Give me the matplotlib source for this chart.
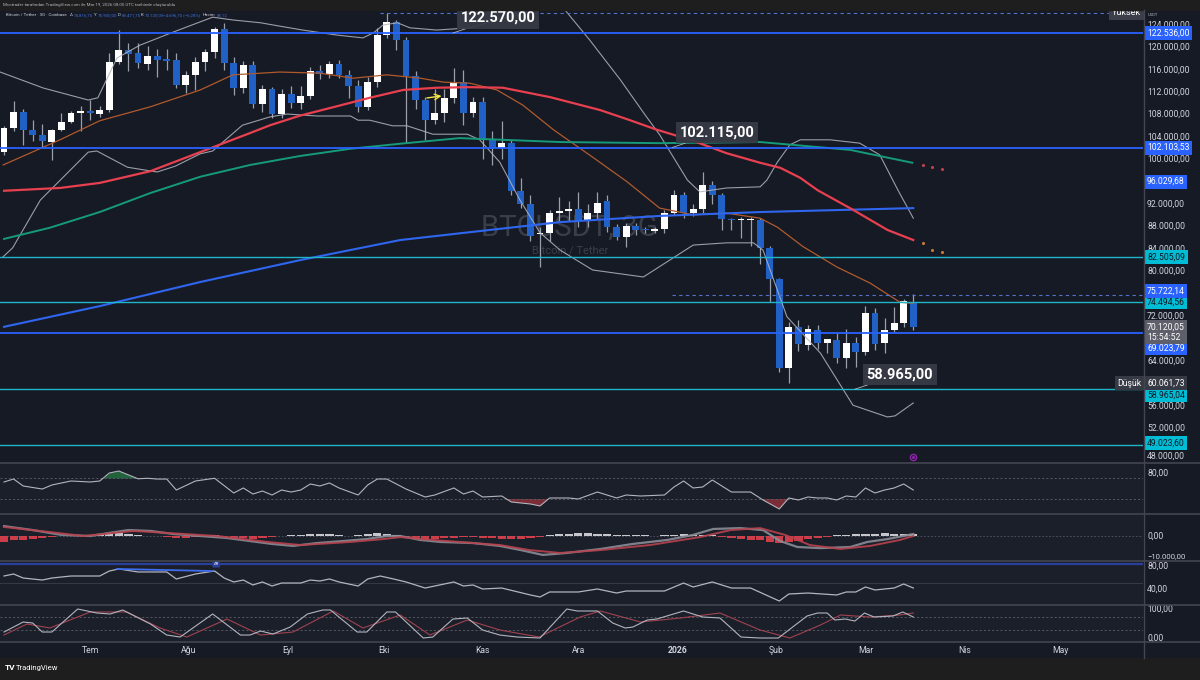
import matplotlib
matplotlib.use('Agg')
import matplotlib.pyplot as plt
import matplotlib.transforms as mtransforms
from matplotlib.lines import Line2D
from matplotlib.patches import Rectangle
import numpy as np
import pandas as pd

plt.rcParams['font.family'] = ['Roboto', 'DejaVu Sans']

# ---------------- data (prices in thousand USDT) ----------------
start_date = '2025-06-04'
bar_days = 3

opens = [101.3,105.6,108.5,105.3,104.4,103.1,105.3,106.7,108.2,108.7,
         108.1,108.8,117.4,119.6,119.0,117.0,118.5,117.85,117.7,113.2,
         115.0,117.4,119.1,123.2,117.2,112.7,116.9,109.9,112.5,108.1,
         111.7,110.0,111.3,115.8,115.2,117.0,115.1,113.1,109.4,113.9,
         122.2,124.6,121.4,114.9,110.6,107.0,108.2,110.9,113.9,108.2,
         110.3,103.6,102.0,103.0,94.3,92.0,86.6,86.8,90.4,90.8,
         91.2,89.1,90.5,92.5,87.9,86.1,88.1,87.45,87.3,87.5,
         90.5,93.6,90.5,91.1,95.4,93.6,89.3,89.1,89.1,89.2,
         84.1,78.6,62.7,70.1,66.9,69.5,67.3,67.7,64.5,67.2,
         65.6,72.5,67.2,69.6,70.7,74.6]
highs = [105.9,110.5,109.0,107.0,106.3,105.5,108.3,108.7,109.5,110.6,
         109.5,119.0,123.1,120.8,120.8,120.3,119.7,119.7,119.0,115.7,
         118.3,119.7,123.6,124.3,118.3,117.5,117.5,113.3,113.0,112.5,
         113.1,113.1,116.5,116.9,117.5,117.7,116.0,114.2,114.8,123.4,
         126.1,124.9,121.9,115.7,111.2,112.5,112.5,116.3,116.0,111.2,
         111.2,105.0,106.8,103.5,96.7,93.6,88.0,91.0,93.3,92.5,
         94.2,92.0,94.2,93.6,88.5,88.6,88.6,87.9,88.0,91.0,
         94.5,94.2,92.0,97.8,96.2,94.0,89.6,89.7,89.7,89.6,
         84.5,78.9,71.0,71.3,70.4,70.4,68.0,69.0,69.8,68.3,
         73.8,73.4,71.6,73.7,75.1,75.9]
lows = [100.8,105.0,102.6,103.2,102.3,99.9,105.0,106.5,105.0,107.0,
        107.5,108.5,117.0,115.7,116.3,116.0,114.8,116.0,112.7,111.9,
        112.4,115.7,118.1,116.0,111.5,111.8,109.1,108.5,107.4,107.4,
        109.1,109.0,110.8,114.3,114.5,114.5,110.9,108.5,108.9,113.0,
        121.6,119.5,103.0,109.0,103.5,106.3,106.6,110.0,106.1,107.5,
        100.0,99.0,100.0,93.6,91.4,85.5,80.7,85.5,89.0,89.0,
        88.0,88.0,89.3,87.0,85.6,84.3,86.5,86.9,86.8,86.8,
        90.0,89.5,89.9,90.5,92.0,87.4,87.4,86.0,84.5,81.3,
        74.6,62.1,60.06,65.7,66.0,66.2,65.4,63.6,62.7,63.0,
        65.0,66.0,65.5,69.2,70.0,69.5]
closes = [105.6,108.5,105.3,104.4,103.2,105.3,106.7,108.3,108.7,108.2,
          108.8,117.4,119.6,118.9,117.2,118.5,117.7,117.65,113.2,115.0,
          117.4,119.1,123.2,117.2,112.7,116.9,109.9,112.5,108.1,111.7,
          110.0,111.3,115.8,115.2,117.0,115.1,113.1,109.4,113.9,122.2,
          124.6,121.4,114.9,110.6,107.0,108.2,110.9,113.9,108.2,110.3,
          103.6,102.0,103.0,94.3,92.0,86.3,86.8,90.4,90.7,91.2,
          89.2,90.5,92.3,87.9,86.1,88.1,87.4,87.35,87.6,90.4,
          93.6,90.5,91.1,95.4,93.6,89.3,89.1,89.2,89.2,84.1,
          78.6,62.7,70.1,67.0,69.7,67.3,67.9,64.5,67.3,65.6,
          72.5,67.0,69.6,70.8,74.7,70.12]

# moving averages / bands, sampled at bar index positions
ma_brown_x = [-0.1,5.85,10,15.3,20.5,23.9,28.8,33,36.5,40,43.5,45.9,48.7,51.5,54.2,57.4,61.5,65.1,68.5,72,75.5,79,80.8,83.5,87,90.5,93.6,95]
ma_brown_y = [99.0,103.5,106.9,109.4,112.4,115.1,115.6,115.4,114.5,115.1,114.5,113.8,113.6,112.4,109.7,105.3,100.4,96.0,91.3,90.1,90.4,89.5,87.9,84.4,80.8,77.9,74.5,74.3]
ma_red_x = [0,5.85,10,15.3,20.5,25.7,27.8,30.9,34.8,38.2,41.7,45.2,48.7,52.1,57.1,62.3,65.4,68.2,71.7,75.5,79,81.1,83.2,85,88.7,92.3,95]
ma_red_y = [94.4,94.9,95.8,97.9,101.3,104.7,106.1,107.8,109.5,111.0,112.4,112.8,112.9,112.8,111.1,108.8,107.0,105.3,103.5,101.1,99.4,98.5,96.7,94.5,91.0,87.4,85.6]
ma_green_x = [0,4.8,10,15.3,20.5,25.7,30.9,36.2,41.4,47.6,58.1,68.5,79,88.4,94.9]
ma_green_y = [85.8,87.8,90.6,94.0,96.9,99.0,100.6,101.9,102.8,103.8,103.1,102.9,103.1,101.7,99.4]
ma_blue_x = [0,10,20.5,30.9,41.4,49.7,58.1,68.5,79,95]
ma_blue_y = [70.1,73.8,78.1,82.0,85.6,87.2,88.8,89.9,90.6,91.3]
bb_up_x = [-0.4,4.1,8.8,9.8,11.8,14.2,17.7,21.8,23.9,26.8,28.8,31.2,34.8,37.5,38.6,39.6,41.1,42.4,45.2,48.7,50.5,54.2,56.5,58.6,61.2,64.4,67,68.5,71.4,72.7,75.5,79,79.7,80.8,82.1,83.2,86.3,89.4,91.5,93.4,95]
bb_up_y = [115.6,112.75,110.6,111.0,118.1,120.4,122.75,125.4,124.9,124.4,123.8,123.1,122.2,121.7,122.6,124.0,124.4,123.5,123.1,123.5,124.4,126.1,128.5,126.7,121.3,114.2,107.9,104.4,96.3,94.2,94.9,95.1,96.3,99.5,102.6,103.5,103.5,102.9,100.8,94.5,89.5]
bb_lo_x = [-0.1,0.9,3.8,8.8,9.7,12.9,16,17.9,20.5,21.8,24.9,27.8,29.6,32.7,36.2,37,38.2,40.6,42.1,44.8,48.4,49.7,51.8,53.9,56,58.1,61.5,66.8,72,75.5,78.3,79.3,81.8,85.3,88.7,92.3,93.1,95]
bb_lo_y = [82.6,84.2,92.75,101.3,101.5,98.6,97.75,98.8,101.0,101.5,106.1,107.6,108.1,107.75,107.75,107.0,107.0,106.0,106.0,104.5,104.5,103.5,99.5,92.75,86.9,83.8,80.25,79.0,84.7,85.1,85.1,83.8,71.9,65.4,56.1,54.0,54.2,56.5]
proj_orange_x = [96, 97, 98]
proj_orange_y = [85.0, 83.9, 83.4]
proj_red_x = [96, 97, 98]
proj_red_y = [99.0, 98.6, 98.2]

# horizontal levels
levels_blue = [122.536, 102.10353, 69.02379]
levels_cyan = [82.50509, 74.49456, 58.96504, 49.02360]
level_dashed = 75.72214
level_dashed_start = 69.8
high_level = 126.2
high_start = 39.3
low_value = 60.06173
extra_blue_label = 96.02968
last_close = 70.12005
countdown = '15:54:52'
price_ticks = [124,120,116,112,108,104,100,92,88,84,80,72,64,56,52,48]

ann_text = ['122.570,00', '102.115,00', '58.965,00']
ann_idx = [46.9, 69.8, 88.9]
ann_price = [122.57, 102.115, 58.965]

# RSI (pane 1)
rsi_x = [0,1,2,4,5,7,9,10,11,12,14,15,16,17,18,20,22,24,25,26,27,28,29,30,31,32,33,34,35,37,38,39,40,42,44,45,47,48,49,50,52,53,55,56,57,59,60,62,64,65,66.5,69,70,71,72,73,74,76,78,79.3,81,82,83,84,85,86,87,88,89,90,91,92,93,94,95]
rsi_v = [62.4,68.1,54.8,49.0,56.7,64.3,62.4,64.3,79.5,83.3,68.5,69.5,68,68,47.1,64.3,69.5,41.4,51.0,39.5,45.2,37.6,47.1,43.3,47.1,58.6,54.8,60.5,51.0,37.6,56.7,68.1,68,49.0,33.8,37.6,51.0,39.5,45.2,33.8,35.7,24.3,20.5,16.7,31.9,31.9,30,43.3,31.9,37.6,35.7,37.6,52.9,64.3,51.0,52.9,66.2,43.3,43.3,28.1,11,31.9,28.1,33.8,31.9,31.9,28.1,35.7,33.8,51.0,41.4,47.1,51.0,58.6,47.1]

# MACD (pane 2)
macd_x = [0,3,6,9,11,13,15.3,17.7,20.5,23.3,25.7,28,30.2,32.7,35.4,37.9,40,41.4,43.5,45.6,49,51.8,54,56.3,58.8,62.3,65.7,69.3,72,74.1,76.9,79.3,81.1,82.9,85.3,88.4,90.2,92.3,95]
macd_v = [4500,2700,500,0,1400,2700,2300,900,0,-900,-2300,-3600,-4500,-3200,-2300,-1400,0,0,-1800,-2700,-3200,-4500,-6400,-8600,-7700,-5900,-3600,-1800,500,3200,3600,2700,-2300,-5000,-5500,-5000,-2700,-1400,900]
sig_x = [0,4.8,8.3,13.5,17,22.3,27.5,31,36.2,39.6,41.4,44.8,51.8,54.9,58.1,62.3,67.5,72.7,75.9,79,81.6,84.2,87.4,90.5,93.6,95]
sig_v = [4100,1800,0,2300,1400,0,-2700,-4100,-2700,-1400,-500,-1800,-4100,-6400,-7700,-6400,-4100,-500,2700,3600,500,-4100,-5900,-4500,-1800,0]
hist_v = [-2500,-2000,-1600,-1200,-900,-600,-200,200,300,300,
          800,1200,1300,1000,600,200,-200,-600,-900,-700,
          -400,200,300,-500,-900,-1100,-1200,-900,-500,-100,
          300,600,800,900,700,400,100,600,1000,1300,
          1100,600,-500,-1200,-1600,-1500,-1000,-700,-500,-600,
          -800,-900,-1200,-1300,-1200,-900,-500,300,700,1100,
          1300,1200,1000,700,500,400,300,300,200,300,
          500,700,600,500,300,-300,-700,-1200,-1600,-2000,
          -2600,-3000,-2800,-2200,-1500,-800,-300,300,600,800,
          1000,1100,1200,1100,1000,800]

# RSI (pane 3)
rsi2_x = [0,1,2,4,5,7,10,11,12,14,15,17,18,20,22,23,24,25,26,27,28,29,31,32,33,34,35,37,38,39.3,40.7,42,44,45,47,48,49,50,52,55,56,57,60,62,64,65,69,71,72,74,76,78,81,82,84,87,88,89,90,91,93,94,95]
rsi2_v = [60,63.1,56.9,53.8,56.9,60,60,67.7,70.8,66.2,66.2,66.2,55.4,63.1,67.7,56.9,50.8,53.8,46.2,50.8,44.6,49.2,49.2,53.8,52.3,55.4,50.8,44.6,55.4,60,55.4,50.8,41.5,44.6,50.8,44.6,46.2,40,41.5,30.8,27.7,35.4,35.4,40,33.8,36.9,36.9,49.2,43.1,50.8,41.5,41.5,21.5,32.3,33.8,30.8,35.4,35.4,43.1,38.5,41.5,47.7,41.5]
trend2_x = [11.8, 21.7]
trend2_v = [70.8, 67.7]
rsi2_band = 78

# Stochastic RSI (pane 4)
k_x = [0,2,3,4,5,7.7,9.7,11.1,12.4,15.3,17,18.4,21.8,24.7,25.7,26.8,28.1,29.9,31.7,33.3,34.1,36.9,37.9,40,40.9,43.8,44.8,46.9,48.4,50,51.8,53.6,56,58.8,59.9,62,63.6,64.9,65.7,67.2,68.2,71,73,74.8,77,79,80.9,83.9,85,86,86.8,87.9,88.9,89.9,90.9,92.9,93.9,95]
k_v = [20.7,55.2,51.7,20.7,20.7,100,86.2,82.8,96.6,48.3,10.3,3.4,82.8,10.3,10.3,24.1,13.8,37.9,82.8,96.6,96.6,20.7,20.7,89.7,89.7,0,3.4,65.5,69,27.6,10.3,3.4,0,100,93.1,93.1,51.7,34.5,37.9,62.1,65.5,93.1,72.4,69,3.4,0,0,75.9,86.2,86.2,62.1,65.5,58.6,86.2,72.4,75.9,89.7,72.4]
d_x = [0,2.4,4.8,9,12.8,16.3,19.1,23.3,26.8,30.2,34.4,37.5,41.4,44.5,48.4,51.8,55.9,60.2,62.3,66.5,70.7,74.8,79,82.1,85.3,87.4,90.5,93.6,95]
d_v = [10.3,48.3,34.5,89.7,89.7,34.5,3.4,65.5,10.3,20.7,93.1,34.5,79.3,10.3,62.1,27.6,3.4,72.4,93.1,55.2,69,86.2,27.6,0,44.8,79.3,72.4,79.3,86.2]
stoch_levels = [72.4, 27.6]

month_starts = ['2025-07-01','2025-08-01','2025-09-01','2025-10-01','2025-11-01','2025-12-01',
                '2026-01-01','2026-02-01','2026-03-01','2026-04-01','2026-05-01']
month_labels = ['Tem','Ağu','Eyl','Eki','Kas','Ara','2026','Şub','Mar','Nis','May']

# ---------------- styling ----------------
W, H = 1200, 680
BG = '#161a25'
PANE = '#1b1f2a'
STRIP = '#1e1e1e'
SEP = '#434651'
TXT = '#d1d4dc'
UP = '#ffffff'
DN = '#2160c4'
BLUE = '#2962ff'
CYAN = '#00bcd4'

fig = plt.figure(figsize=(W / 100, H / 100), dpi=100)
fig.patch.set_facecolor(BG)

def fy(py):
    return 1 - py / H

def fx(px):
    return px / W

AXR = 1143
ax = fig.add_axes([0, fy(462), fx(AXR), (462 - 10) / H])
ax1 = fig.add_axes([0, fy(513), fx(AXR), (513 - 463) / H])
ax2 = fig.add_axes([0, fy(560), fx(AXR), (560 - 514) / H])
ax3 = fig.add_axes([0, fy(604), fx(AXR), (604 - 561) / H])
ax4 = fig.add_axes([0, fy(641), fx(AXR), (641 - 605) / H])

XL = (-0.42, 119.0)
for a, fc in [(ax, BG), (ax1, PANE), (ax2, PANE), (ax3, PANE), (ax4, PANE)]:
    a.set_facecolor(fc)
    a.set_xlim(*XL)
    for s in a.spines.values():
        s.set_visible(False)
    a.set_yticks([])
    a.tick_params(axis='x', length=0, labelbottom=False)

ax.set_ylim(45.96, 126.68)
ax1.set_ylim(3.3, 98.6)
ax2.set_ylim(-10900, 10000)
ax3.set_ylim(16.9, 83.1)
ax4.set_ylim(-10.3, 113.8)

def fmt(v):
    s = f"{v:,.2f}"
    return s.replace(',', 'X').replace('.', ',').replace('X', '.')

def rlabel(a, y, text, fc=None, tc=TXT, dy=0, fs=6.2, x=1.0035, ha='left'):
    t = mtransforms.blended_transform_factory(a.transAxes, a.transData)
    t = mtransforms.offset_copy(t, fig=fig, x=0, y=-dy, units='dots')
    kw = {}
    if fc:
        kw['bbox'] = dict(boxstyle='square,pad=0.3', fc=fc, ec='none')
    a.text(x, y, text, transform=t, ha=ha, va='center', fontsize=fs, color=tc,
           clip_on=False, zorder=20 if fc else 15, **kw)

# ---------------- main price pane ----------------
o = np.array(opens); h = np.array(highs); l = np.array(lows); c = np.array(closes)
xi = np.arange(len(o))
up = c >= o
cols = np.where(up, UP, DN)
ax.vlines(xi, l, h, colors='#9aa0ab', lw=0.9, zorder=3)
ax.bar(xi, np.maximum(np.abs(c - o), 0.25), bottom=np.minimum(o, c), width=0.72,
       color=cols, linewidth=0, zorder=4)

ax.text(59.1, 87.75, 'BTCUSDT, 3G', fontsize=21, color='#3a3e49', ha='center', va='center', zorder=1)
ax.text(59.1, 83.8, 'Bitcoin / Tether', fontsize=8, color='#3a3e49', ha='center', va='center', zorder=1)

ax.plot(bb_up_x, bb_up_y, color='#b2b5be', lw=0.8, alpha=0.85, zorder=5)
ax.plot(bb_lo_x, bb_lo_y, color='#b2b5be', lw=0.8, alpha=0.85, zorder=5)
ax.plot(ma_brown_x, ma_brown_y, color='#b05a2c', lw=0.9, zorder=5)
ax.plot(ma_green_x, ma_green_y, color='#159a7c', lw=1.4, zorder=5)
ax.plot(ma_blue_x, ma_blue_y, color='#2f66f0', lw=1.5, zorder=5)
ax.plot(ma_red_x, ma_red_y, color='#e8404f', lw=1.6, zorder=5)
ax.scatter(proj_orange_x, proj_orange_y, s=1.5, color='#c87a3a', zorder=5)
ax.scatter(proj_red_x, proj_red_y, s=1.5, color='#c04050', zorder=5)

for lv in levels_blue:
    ax.axhline(lv, color=BLUE, lw=1.3, zorder=6)
for lv in levels_cyan:
    ax.axhline(lv, color='#1fb5c6', lw=1.0, zorder=6)
ax.hlines(level_dashed, level_dashed_start, XL[1], color='#5573c8', lw=0.8, linestyles=(0, (3, 3)), zorder=6)
ax.hlines(high_level, high_start, XL[1], color='#5573c8', lw=0.8, linestyles=(0, (3, 3)), zorder=6)

for t, xv, pv in zip(ann_text, ann_idx, ann_price):
    ax.annotate(t, xy=(xv, pv), xytext=(45, 15), textcoords='offset pixels',
                ha='center', va='center', fontsize=10.5, fontweight='bold', color='#ffffff',
                bbox=dict(boxstyle='square,pad=0.25', fc='#363a45', ec='none', alpha=0.95),
                arrowprops=dict(arrowstyle='-', color='#b2b5be', lw=0.6, shrinkA=0, shrinkB=0),
                zorder=12)

ax.annotate('', xy=(46.0, 111.4), xytext=(43.9, 110.9),
            arrowprops=dict(arrowstyle='->', color='#f5e642', lw=1.0), zorder=12)
ax.plot([95], [46.9], marker='o', ms=4.5, mfc='none', mec='#8e24aa', mew=1.0, zorder=12)
ax.plot([95], [46.9], marker='o', ms=1.2, color='#8e24aa', zorder=12)

# right price axis labels
for v in price_ticks:
    rlabel(ax, v, fmt(v * 1000), dy=6 if v == 48 else 0)
for lv in levels_blue:
    rlabel(ax, lv, fmt(lv * 1000), fc=BLUE, tc='#ffffff', dy=15 if lv < 70 else 0)
for lv in levels_cyan:
    rlabel(ax, lv, fmt(lv * 1000), fc=CYAN, tc='#131722', dy=6 if 58 < lv < 60 else (-2 if lv < 50 else 0))
rlabel(ax, extra_blue_label, fmt(extra_blue_label * 1000), fc=BLUE, tc='#ffffff')
rlabel(ax, level_dashed, fmt(level_dashed * 1000), fc=BLUE, tc='#ffffff', dy=-4.5)
rlabel(ax, last_close, fmt(last_close * 1000) + '\n' + countdown, fc='#5d606b', tc='#ffffff', dy=5.5)
rlabel(ax, low_value, fmt(low_value * 1000), fc='#363a45', tc='#ffffff')
rlabel(ax, low_value, 'Düşük', fc='#363a45', tc='#ffffff', x=0.9985, ha='right')
rlabel(ax, high_level, 'Yüksek', fc='#3c3f49', tc='#ffffff', x=0.9985, ha='right', fs=6.5)
fig.text(fx(1148), fy(15), 'USDT', fontsize=3, color='#b2b5be', va='center', ha='left')

# ---------------- pane 1: RSI ----------------
rx = np.array(rsi_x); rv = np.array(rsi_v)
ax1.fill_between(rx, rv, 70, where=rv > 70, interpolate=True, color='#24703f', alpha=0.85, lw=0)
ax1.fill_between(rx, rv, 30, where=rv < 30, interpolate=True, color='#a3333d', alpha=0.7, lw=0)
for lv in (70, 30):
    ax1.axhline(lv, color='#5d606b', lw=0.6, ls=(0, (2.5, 2.5)))
ax1.plot(rx, rv, color='#b2b5be', lw=0.8)
rlabel(ax1, 80, '80,00')

# ---------------- pane 2: MACD ----------------
hv = np.array(hist_v)
ax2.axhline(0, color='#5d606b', lw=0.5, ls=(0, (2.5, 2.5)))
ax2.bar(np.arange(len(hv)), hv, width=0.85, color=np.where(hv >= 0, '#d9dbe0', '#e0414e'),
        alpha=0.9, lw=0, zorder=3)
ax2.plot(macd_x, macd_v, color='#8a8d96', lw=1.6, alpha=0.9, zorder=4)
ax2.plot(sig_x, sig_v, color='#b8424d', lw=1.4, alpha=0.9, zorder=4)
rlabel(ax2, 0, '0,00')
rlabel(ax2, -10000, '\u221210.000,00', dy=-1.5, fs=5.6)

# ---------------- pane 3: RSI ----------------
ax3.axhline(rsi2_band, color='#2b3f9a', lw=1.6)
ax3.axhline(50, color='#343845', lw=0.8)
ax3.plot(rsi2_x, rsi2_v, color='#b2b5be', lw=0.9, zorder=4)
ax3.plot(trend2_x, trend2_v, color='#3f6df0', lw=1.3, zorder=5)
ax3.text(trend2_x[1] + 0.2, rsi2_band, 'AR', fontsize=3, color='#ffffff', ha='left', va='center',
         bbox=dict(boxstyle='round,pad=0.3', fc='#2b3f9a', ec='none'), zorder=6)
rlabel(ax3, 80, '80,00', dy=3)
rlabel(ax3, 40, '40,00')

# ---------------- pane 4: Stochastic RSI ----------------
for lv in stoch_levels:
    ax4.axhline(lv, color='#5d606b', lw=0.6, ls=(0, (2.5, 2.5)))
ax4.plot(d_x, d_v, color='#a0434f', lw=0.8, zorder=4)
ax4.plot(k_x, k_v, color='#b2b5be', lw=0.8, zorder=5)
rlabel(ax4, 100, '100,00')
rlabel(ax4, 0, '0,00')

# x axis (months)
t0 = pd.Timestamp(start_date)
tick_idx = [(pd.Timestamp(m) - t0).days / bar_days for m in month_starts]
ax4.set_xticks(tick_idx)
ax4.set_xticklabels(month_labels)
ax4.tick_params(axis='x', length=0, pad=3.3, labelbottom=True, labelsize=6.2, labelcolor=TXT)
for lab in ax4.get_xticklabels():
    if lab.get_text() == '2026':
        lab.set_fontweight('bold')

# ---------------- frame, separators, strips ----------------
for py in (462.5, 513.5, 560.5, 604.5, 641.5):
    fig.add_artist(Line2D([0, 1], [fy(py), fy(py)], transform=fig.transFigure, color=SEP, lw=1.2))
fig.add_artist(Line2D([fx(AXR + 0.5), fx(AXR + 0.5)], [fy(10), fy(658)], transform=fig.transFigure,
                      color=SEP, lw=1.0))
fig.add_artist(Rectangle((0, fy(10)), 1, 10 / H, transform=fig.transFigure, color=STRIP, zorder=0.5))
fig.add_artist(Rectangle((0, 0), 1, (H - 658) / H, transform=fig.transFigure, color=STRIP, zorder=0.5))

fig.text(fx(3), fy(5), 'Mcotrader tarafından TradingView.com ile Mar 19, 2026 08:05 UTC tarihinde oluşturuldu',
         fontsize=3.2, color='#b2b5be', va='center', ha='left')
VAL = '#3d6fd6'
header = [('Bitcoin / Tether · 3G · Coinbase', TXT, 6), ('A', TXT, 70), ('74.816,75', VAL, 74),
          ('Y', TXT, 94), ('75.900,00', VAL, 98), ('D', TXT, 118), ('69.471,75', VAL, 122),
          ('K', TXT, 141), ('70.120,05', VAL, 145), ('\u22124.696,70 (\u22126,28%)', VAL, 163),
          ('Hacim', TXT, 203), ('85,12', VAL, 217)]
for txt, col, px in header:
    fig.text(fx(px), fy(15), txt, fontsize=3.2, color=col, va='center', ha='left')

fig.text(fx(5), fy(668), 'TV', fontsize=6, fontweight='bold', color='#ffffff', va='center', ha='left')
fig.text(fx(16), fy(668), 'TradingView', fontsize=5.5, color='#ffffff', va='center', ha='left')

fig.savefig('out.png', dpi=100, facecolor=fig.get_facecolor())
